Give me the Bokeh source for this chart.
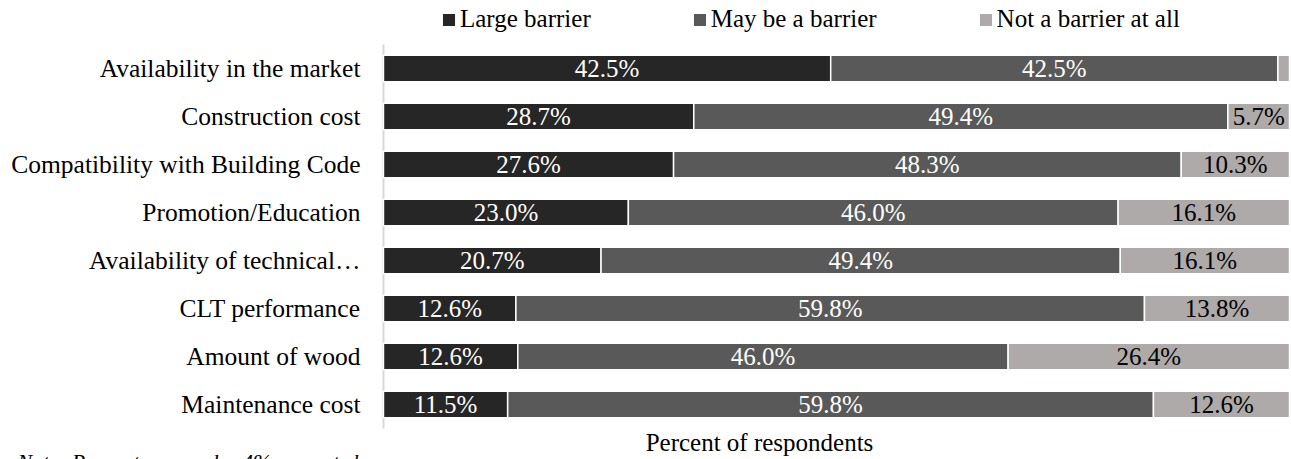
from bokeh.plotting import figure
from bokeh.models import ColumnDataSource, Range1d, Legend, LegendItem, Label
from bokeh.core.properties import value
from bokeh.embed import file_html
from bokeh.resources import INLINE

# Survey results: perceived barriers to CLT adoption (percent of respondents)
categories = [
    "Availability in the market",
    "Construction cost",
    "Compatibility with Building Code",
    "Promotion/Education",
    "Availability of technical\u2026",
    "CLT performance",
    "Amount of wood",
    "Maintenance cost",
]
large_barrier = [42.5, 28.7, 27.6, 23.0, 20.7, 12.6, 12.6, 11.5]
maybe_barrier = [42.5, 49.4, 48.3, 46.0, 49.4, 59.8, 46.0, 59.8]
not_barrier = [1.1, 5.7, 10.3, 16.1, 16.1, 13.8, 26.4, 12.6]

series_names = ["Large barrier", "May be a barrier", "Not a barrier at all"]
series_keys = ["large", "maybe", "notb"]
series_colors = ["#262626", "#595959", "#aeaaaa"]
label_colors = ["white", "white", "black"]

FONT = "Liberation Serif"
MIN_SHOWN = 4.0  # values under 4% are not labelled

# one row per category, first category on top
rows = list(range(len(categories)))
data = {"row": rows, "large": large_barrier, "maybe": maybe_barrier, "notb": not_barrier}

# 100% stacked: each bar is scaled to the sum of its shown responses
totals = [a + b + c for a, b, c in zip(large_barrier, maybe_barrier, not_barrier)]
for k in series_keys:
    data[k + "_share"] = [v / t * 100 for v, t in zip(data[k], totals)]
source = ColumnDataSource(data)

# the frame fills the canvas; the ranges leave room for category names, legend and notes
p = figure(width=1291, height=459, x_range=Range1d(-42.27, 100.22),
           y_range=Range1d(8.146, -1.417), output_backend="svg", toolbar_location=None,
           min_border=0)
p.outline_line_color = None
p.grid.visible = False
p.axis.visible = False
p.background_fill_color = "white"

# category axis line
p.segment(x0=[0], y0=[rows[0] - 0.5], x1=[0], y1=[rows[-1] + 0.5],
          line_color="#d9d9d9", line_width=2)

renderers = p.hbar_stack([k + "_share" for k in series_keys], y="row", height=0.55,
                         source=source, color=series_colors, line_color="white", line_width=1.5)

# value labels centred in each segment
left = [0.0] * len(categories)
for k, tcol in zip(series_keys, label_colors):
    xs, ys, ts = [], [], []
    for i in rows:
        share = data[k + "_share"][i]
        v = data[k][i]
        if v >= MIN_SHOWN:
            xs.append(left[i] + share / 2)
            ys.append(i)
            ts.append(f"{v:.1f}%")
        left[i] += share
    p.text(x=xs, y=ys, text=ts, text_align="center", text_baseline="middle",
           text_font=value(FONT), text_font_size="25px", text_color=tcol)

# category names
p.text(x=[-2.54] * len(categories), y=rows, text=categories, text_align="right",
       text_baseline="middle", text_font=value(FONT), text_font_size="25.5px",
       text_color="black")

legend = Legend(
    items=[LegendItem(label=n, renderers=[r]) for n, r in zip(series_names, renderers)],
    orientation="horizontal", location=(440, 426),
    glyph_width=17, glyph_height=17, label_standoff=3, spacing=100,
    padding=0, margin=0, border_line_color=None, background_fill_alpha=0,
    label_text_font=FONT, label_text_font_size="25px", label_text_color="black",
)
p.add_layout(legend)

p.add_layout(Label(x=41.5, y=7.79, text="Percent of respondents", text_align="center",
                   text_baseline="middle", text_font=FONT, text_font_size="25px",
                   text_color="black"))
p.add_layout(Label(x=-40.4, y=7.917, text="Note: Percentages under 4% are not shown.",
                   text_align="left", text_baseline="top", text_font_style="italic",
                   text_font=FONT, text_font_size="22px", text_color="black"))

open("out.html", "w").write(file_html(p, INLINE))
